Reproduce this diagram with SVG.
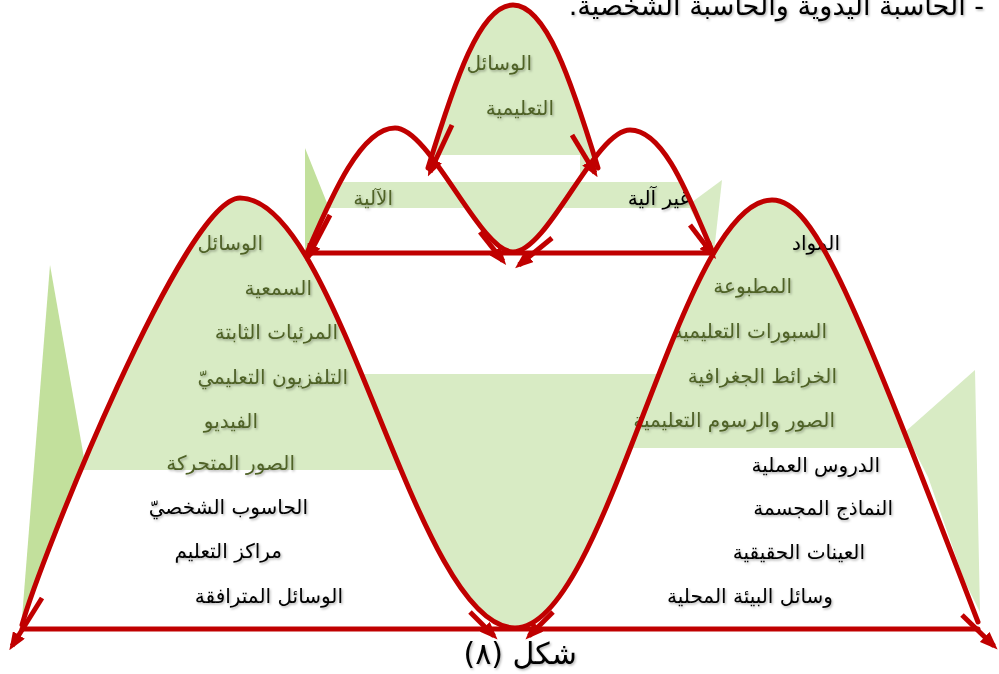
<svg xmlns="http://www.w3.org/2000/svg" width="999" height="674" viewBox="0 0 999 674">
<defs>
<style>
.lg{fill:#D8EBC4}
.dg{fill:#C2E09C}
.red{fill:none;stroke:#C00000;stroke-width:5;stroke-linecap:round;stroke-linejoin:round}
.ar{fill:none;stroke:#C00000;stroke-width:5;marker-end:url(#ah)}
text{font-family:"DejaVu Sans","Liberation Sans",sans-serif;font-size:20px;direction:rtl;text-anchor:start;filter:url(#sh)}
.g{fill:#4F6228}
.k{fill:#000}
</style>
<filter id="sh" x="-10%" y="-30%" width="130%" height="170%">
<feDropShadow dx="1.2" dy="1.5" stdDeviation="0.8" flood-color="#000" flood-opacity="0.3"/>
</filter>
<marker id="ah" markerUnits="userSpaceOnUse" viewBox="0 0 18 14" refX="13" refY="7" markerWidth="18" markerHeight="14" orient="auto">
<path d="M0,0 L18,7 L0,14 z" fill="#C00000"/>
</marker>
<clipPath id="belowW"><path d="M22,625 C40,560 185,198 240,198 C340,198 415,628 515,628 C607,628 680,200 772,200 C815,200 854,300 978,622 L999,674 L0,674 Z"/></clipPath>
<clipPath id="aboveW"><path d="M22,625 C40,560 185,198 240,198 C340,198 415,628 515,628 C607,628 680,200 772,200 C815,200 854,300 978,622 L999,0 L0,0 Z"/></clipPath>
<clipPath id="hullU"><path d="M307,253 C330,200 360,128 395,128 L630,130 C665,130 690,200 713,253 Z"/></clipPath>
</defs>
<rect width="999" height="674" fill="#fff"/>
<g id="fills">
<rect class="lg" x="0" y="190" width="515" height="280" clip-path="url(#belowW)"/>
<rect class="lg" x="515" y="190" width="484" height="258" clip-path="url(#belowW)"/>
<rect class="lg" x="240" y="374" width="532" height="260" clip-path="url(#aboveW)"/>
<polygon class="lg" points="905,432 975,370 980,612 964,580 947,531 928,477"/>
<polygon class="dg" points="50,265 84,458 22,618"/>
<path class="lg" d="M428,168 C455,80 480,5 513,5 C546,5 571,80 598,168 L596,156 L583.7,172.9 L571.5,191 L559.2,209.1 L547.2,225.7 L535.2,239.3 L523.9,248.5 L513,252 L502.6,248.5 L491.5,239.1 L479.7,225.2 L467.3,208.4 L454.75,190 L442.1,171.6 L430,155 Z"/>
<rect x="437" y="155" width="143" height="27" fill="#fff"/>
<rect class="lg" x="300" y="182" width="420" height="26" clip-path="url(#hullU)"/>
<polygon class="lg" points="722,180 688,205 714,252"/>
<polygon class="dg" points="305,148 327,203 307,253 305,253"/>
</g>
<g id="top-text"><text class="k" x="984" y="15" style="font-size:27px">- الحاسبة اليدوية والحاسبة الشخصية.</text></g>
<g id="node-top"><text class="g" x="532" y="70">الوسائل</text><text class="g" x="554" y="115">التعليمية</text></g>
<g id="node-auto"><text class="g" x="393" y="205">الآلية</text></g>
<g id="node-nonauto"><text class="k" x="690" y="205">غير آلية</text></g>
<g id="node-left">
<text class="g" x="263" y="250">الوسائل</text>
<text class="g" x="312" y="295">السمعية</text>
<text class="g" x="338" y="339">المرئيات الثابتة</text>
<text class="g" x="348" y="384">التلفزيون التعليميّ</text>
<text class="g" x="258" y="428">الفيديو</text>
<text class="g" x="295" y="470">الصور المتحركة</text>
<text class="k" x="308" y="514">الحاسوب الشخصيّ</text>
<text class="k" x="282" y="558">مراكز التعليم</text>
<text class="k" x="343" y="603">الوسائل المترافقة</text>
</g>
<g id="node-right">
<text class="k" x="840" y="250">المواد</text>
<text class="g" x="792" y="293">المطبوعة</text>
<text class="g" x="827" y="338">السبورات التعليمية</text>
<text class="g" x="837" y="383">الخرائط الجغرافية</text>
<text class="g" x="835" y="427">الصور والرسوم التعليمية</text>
<text class="k" x="880" y="472">الدروس العملية</text>
<text class="k" x="893" y="515">النماذج المجسمة</text>
<text class="k" x="865" y="559">العينات الحقيقية</text>
<text class="k" x="833" y="603">وسائل البيئة المحلية</text>
</g>
<g id="connectors">
<path class="red" d="M22,625 C40,560 185,198 240,198 C340,198 415,628 515,628 C607,628 680,200 772,200 C815,200 854,300 978,622"/>
<path class="red" d="M307,253 C330,200 360,128 395,128 C430,128 480,252 513,252 C548,252 595,130 630,130 C665,130 690,200 713,253"/>
<path class="red" d="M428,168 C455,80 480,5 513,5 C546,5 571,80 598,168"/>
<path class="red" d="M307,253 L713,253"/>
<path class="red" d="M22,629 L978,629"/>
<path class="ar" d="M42,598 L12,646"/>
<path class="ar" d="M470,612 L494,636"/>
<path class="ar" d="M553,612 L529,636"/>
<path class="ar" d="M962,615 L994,646"/>
<path class="ar" d="M330,215 L308,257"/>
<path class="ar" d="M690,225 L713,255"/>
<path class="ar" d="M480,232 L503,261"/>
<path class="ar" d="M552,238 L519,265"/>
<path class="ar" d="M452,125 L430,172"/>
<path class="ar" d="M572,135 L595,173"/>
</g>
<g id="caption"><text class="k" x="577" y="664" style="font-size:30px">شكل (٨)</text></g>
</svg>
